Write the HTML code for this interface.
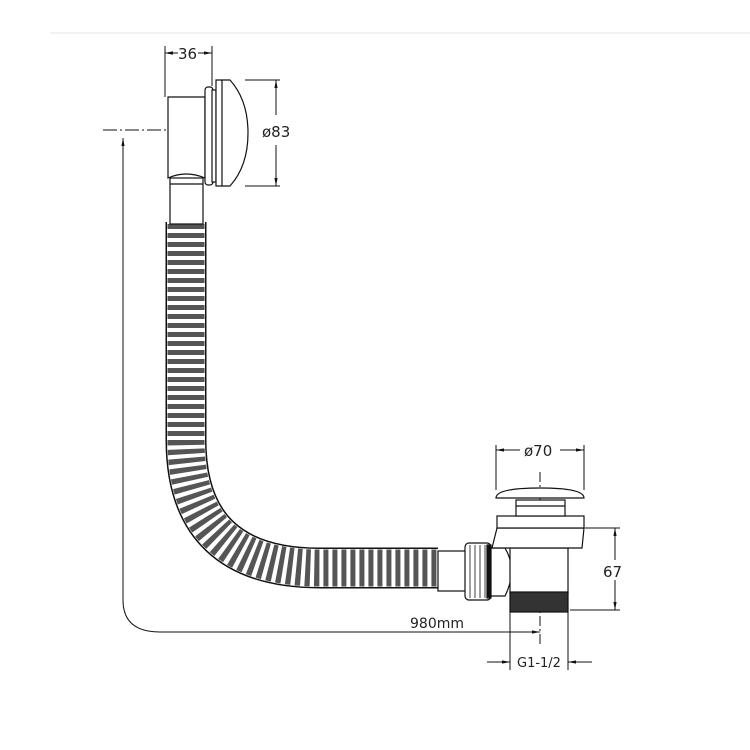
<!DOCTYPE html>
<html><head><meta charset="utf-8"><style>
html,body{margin:0;padding:0;background:#fff;width:750px;height:750px;overflow:hidden}
text{font-family:"DejaVu Sans","Liberation Sans",sans-serif;fill:#222}
</style></head><body>
<svg width="750" height="750" viewBox="0 0 750 750" xmlns="http://www.w3.org/2000/svg">
<defs>
<marker id="a" viewBox="0 0 10 10" refX="10" refY="5" markerWidth="8" markerHeight="8" orient="auto-start-reverse"><path d="M0,3 L10,5 L0,7 z" fill="#111"/></marker>
</defs>
<rect x="50" y="32" width="700" height="2" fill="#f2f2f2"/>
<g stroke="#111" stroke-width="1" fill="none">
<!-- 36 dim -->
<line x1="165" y1="46" x2="165" y2="97"/><line x1="212" y1="46" x2="212" y2="86"/>
<line x1="165" y1="53" x2="177" y2="53" marker-end="url(#a)" transform="rotate(180 171 53)"/>
<line x1="165" y1="53" x2="178" y2="53"/><line x1="198" y1="53" x2="212" y2="53"/>
<line x1="177" y1="53" x2="165" y2="53" marker-end="url(#a)"/><line x1="200" y1="53" x2="212" y2="53" marker-end="url(#a)"/>
<!-- Ø83 dim -->
<line x1="245" y1="80" x2="280" y2="80"/><line x1="245" y1="186" x2="280" y2="186"/>
<line x1="276" y1="115" x2="276" y2="80" marker-end="url(#a)"/><line x1="276" y1="145" x2="276" y2="186" marker-end="url(#a)"/>
<!-- centerline -->
<line x1="103" y1="130" x2="245" y2="130" stroke-dasharray="14 3 2 3"/>
<!-- 980 -->
<path d="M123,600 Q123,632 160,632 L540,632" />
<line x1="123" y1="600" x2="123" y2="138" marker-end="url(#a)"/>
<line x1="520" y1="632" x2="540" y2="632" marker-end="url(#a)"/>
<!-- drain center -->
<line x1="540" y1="472" x2="540" y2="645" stroke-dasharray="10 3 2 3"/>
<!-- Ø70 -->
<line x1="496" y1="445" x2="496" y2="490"/><line x1="584" y1="445" x2="584" y2="490"/>
<line x1="520" y1="450" x2="496" y2="450" marker-end="url(#a)"/><line x1="560" y1="450" x2="584" y2="450" marker-end="url(#a)"/>
<!-- 67 -->
<line x1="585" y1="528" x2="620" y2="528"/><line x1="570" y1="610" x2="620" y2="610"/>
<line x1="615" y1="560" x2="615" y2="528" marker-end="url(#a)"/><line x1="615" y1="580" x2="615" y2="610" marker-end="url(#a)"/>
<!-- G1-1/2 -->
<line x1="510" y1="610" x2="510" y2="670"/><line x1="568" y1="610" x2="568" y2="670"/>
<line x1="487" y1="662" x2="510" y2="662" marker-end="url(#a)"/><line x1="592" y1="662" x2="568" y2="662" marker-end="url(#a)"/>
</g>
<!-- hose -->
<path d="M186,222 L186,440 Q186,568 320,568 L438,568" fill="none" stroke="#111" stroke-width="41"/>
<path d="M186,222 L186,440 Q186,568 320,568 L438,568" fill="none" stroke="#fff" stroke-width="38"/>
<path d="M186,224 L186,440 Q186,568 320,568 L438,568" fill="none" stroke="#555" stroke-width="37" stroke-dasharray="5 4"/>
<!-- head fitting -->
<g stroke="#111" stroke-width="1.2" fill="#fff">
<rect x="170" y="178" width="33" height="46"/>
<line x1="170" y1="184" x2="203" y2="184"/>
<path d="M168,97 L205,97 L205,178 Q186,170 168,178 Z"/>
<rect x="205" y="87" width="8" height="98" rx="3"/>
<rect x="212" y="90" width="4" height="92"/>
<path d="M216,80 L230,80 Q248,100 248,133 Q248,166 230,186 L216,186 Z"/>
<line x1="222" y1="80" x2="222" y2="186"/>
</g>
<!-- drain -->
<g stroke="#111" stroke-width="1.2" fill="#fff">
<rect x="438" y="551" width="28" height="40"/>
<rect x="465" y="543" width="26" height="57" rx="4"/>
<g stroke-width="0.8"><line x1="470" y1="545" x2="470" y2="598"/><line x1="475" y1="545" x2="475" y2="598"/><line x1="480" y1="545" x2="480" y2="598"/><line x1="485" y1="545" x2="485" y2="598"/></g>
<rect x="487" y="545" width="4" height="53" fill="#111"/>
<path d="M491,548 L505,548 Q518,570 505,596 L491,596 Z"/>
<rect x="510" y="548" width="58" height="45"/>
<rect x="510" y="592" width="58" height="20" fill="#333"/>
<path d="M497,528 L584,528 L582,548 L492,548 Z"/>
<rect x="497" y="516" width="87" height="12"/>
<rect x="516" y="500" width="49" height="16"/>
<line x1="516" y1="506" x2="565" y2="506"/>
<path d="M496,498 Q496,488 540,488 Q584,488 584,498 Z"/>
</g>
<text x="178" y="59" font-size="15">36</text>
<text x="262" y="137" font-size="15">ø83</text>
<text x="524" y="456" font-size="15">ø70</text>
<text x="603" y="577" font-size="15">67</text>
<text x="410" y="628" font-size="14">980mm</text>
<text x="517" y="667" font-size="13">G1-1/2</text>
</svg>
</body></html>
